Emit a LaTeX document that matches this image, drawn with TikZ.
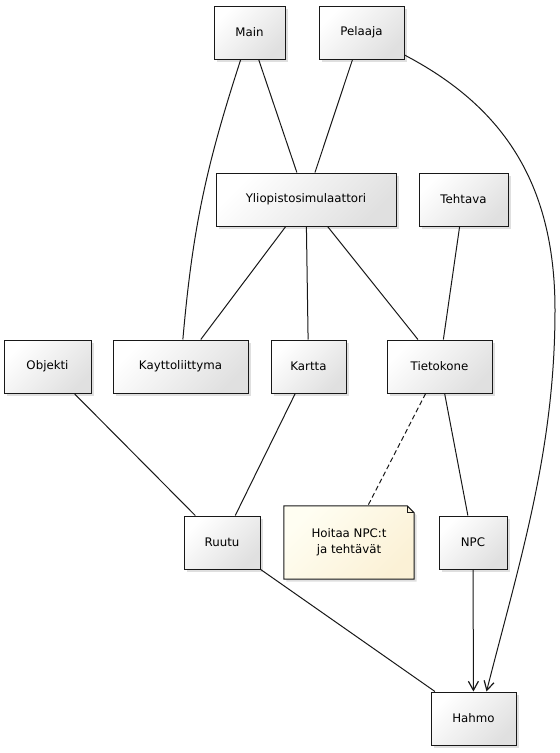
\documentclass[tikz,border=0pt]{standalone}
\usepackage{fontspec}
\setmainfont{DejaVu Sans}
\usetikzlibrary{arrows.meta,shadows,backgrounds}

\definecolor{rim}{HTML}{181818}
\definecolor{boxgray}{HTML}{E0E0E0}
\definecolor{noteA}{HTML}{FFFEF2}
\definecolor{noteB}{HTML}{FBF1D6}

\tikzset{
  luokka/.style={draw=rim, line width=1pt, top color=white, bottom color=boxgray,
    shading angle=45, minimum height=53pt, inner sep=0pt,
    drop shadow={shadow xshift=2.5pt, shadow yshift=-2.5pt, opacity=0.25},
    font=\fontsize{11.8}{16}\selectfont},
  huomio/.style={minimum width=130pt, minimum height=73pt, inner sep=0pt, align=center,
    font=\fontsize{11.8}{16}\selectfont},
  yhteys/.style={draw=rim, line width=1pt},
}

\begin{document}
\begin{tikzpicture}[x=1pt,y=-1pt]
\useasboundingbox (0,0) rectangle (560,753);
\node[luokka, minimum width=71pt] (main) at (249.5,32.5) {Main};
\node[luokka, minimum width=85pt] (pelaaja) at (361.5,32.5) {Pelaaja};
\node[luokka, minimum width=180pt] (yliopisto) at (306,199.5) {Yliopistosimulaattori};
\node[luokka, minimum width=89pt] (tehtava) at (463.5,199.5) {Tehtava};
\node[luokka, minimum width=87pt] (objekti) at (47.5,366.5) {Objekti};
\node[luokka, minimum width=135pt] (kayttoliittyma) at (180.5,366.5) {Kayttoliittyma};
\node[luokka, minimum width=75pt] (kartta) at (308.5,366.5) {Kartta};
\node[luokka, minimum width=105pt] (tietokone) at (439.5,366.5) {Tietokone};
\node[luokka, minimum width=76pt] (ruutu) at (222,542.5) {Ruutu};
\node[luokka, minimum width=68pt] (npc) at (473,542.5) {NPC};
\node[luokka, minimum width=85pt] (hahmo) at (473.5,718.5) {Hahmo};
\node[huomio] (hoitaa) at (349,542.5) {Hoitaa NPC:t\\ja tehtävät};

% note outline behind its text
\begin{scope}[on background layer]
\shade[draw=rim, line width=1pt, top color=noteA, bottom color=noteB, shading angle=45,
  drop shadow={shadow xshift=2.5pt, shadow yshift=-2.5pt, opacity=0.25}]
  (hoitaa.south west) -- (hoitaa.north west) -- ([xshift=-7pt]hoitaa.north east)
  -- ([yshift=-7pt]hoitaa.north east) -- (hoitaa.south east) -- cycle;
\draw[rim, line width=0.8pt] ([xshift=-7pt]hoitaa.north east) -- ([xshift=-7pt,yshift=-7pt]hoitaa.north east)
  -- ([yshift=-7pt]hoitaa.north east);
\end{scope}

\draw[yhteys] (main) -- (yliopisto);
\draw[yhteys] (pelaaja) -- (yliopisto);
\draw[yhteys] (main) to[out=-108, in=85] (kayttoliittyma);
\draw[yhteys] (yliopisto) -- (kayttoliittyma);
\draw[yhteys] (yliopisto) -- (kartta);
\draw[yhteys] (yliopisto) -- (tietokone);
\draw[yhteys] (tehtava) -- (tietokone);
\draw[yhteys] (objekti) -- (ruutu);
\draw[yhteys] (kartta) -- (ruutu);
\draw[yhteys, dash pattern=on 5pt off 3pt] (tietokone) -- (hoitaa);
\draw[yhteys] (tietokone) -- (npc);
\draw[yhteys] (ruutu) -- (hahmo);
\draw[yhteys, -{Straight Barb[length=9pt,width=10pt,line width=1.2pt]}] (npc) -- (hahmo);
\draw[yhteys, -{Straight Barb[length=9pt,width=10pt,line width=1.2pt]}] (pelaaja)
  .. controls (500,105) and (555,180) .. (555,310)
  .. controls (555,450) and (520,560) .. ([xshift=13pt]hahmo.north);
\end{tikzpicture}
\end{document}
